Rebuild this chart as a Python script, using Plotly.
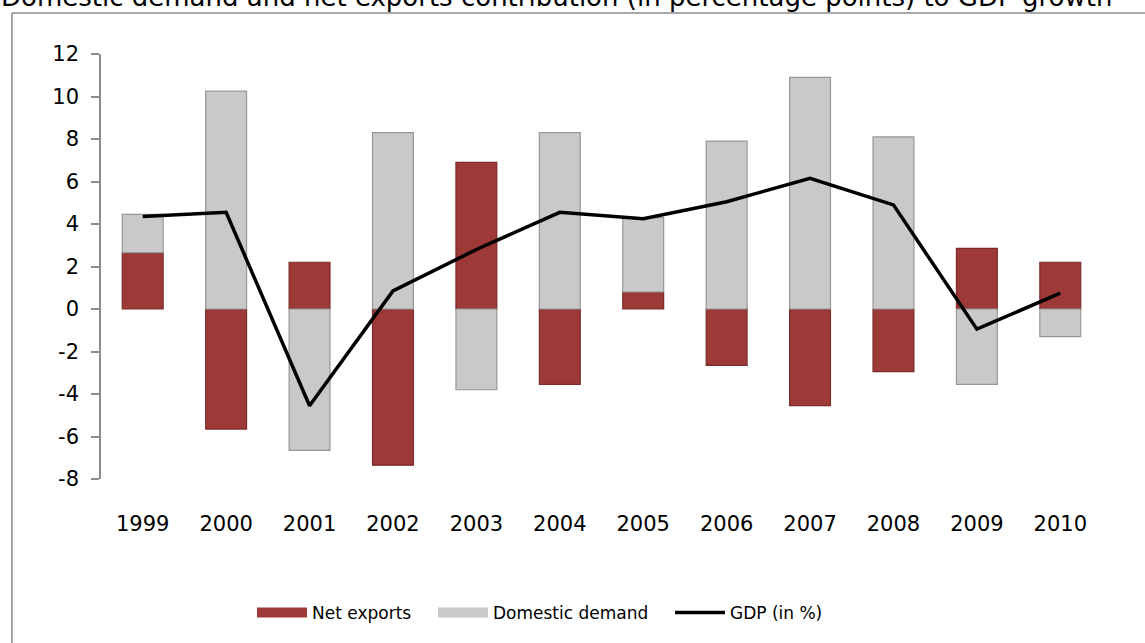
import plotly.graph_objects as go

# Contributions to GDP growth, percentage points
years = ["1999", "2000", "2001", "2002", "2003", "2004",
         "2005", "2006", "2007", "2008", "2009", "2010"]
net_exports = [2.65, -5.65, 2.2, -7.35, 6.9, -3.55, 0.8, -2.65, -4.55, -2.95, 2.85, 2.2]
domestic_demand = [1.8, 10.25, -6.65, 8.3, -3.8, 8.3, 3.5, 7.9, 10.9, 8.1, -3.55, -1.3]
gdp_growth = [4.35, 4.55, -4.55, 0.85, 2.8, 4.55, 4.25, 5.05, 6.15, 4.9, -0.95, 0.75]

y_ticks = list(range(-8, 13, 2))

AXIS_GREY = "#8c8c8c"
RED = "#9d3a38"
GREY = "#c9c9c9"
FONT = "DejaVu Sans"

fig = go.Figure()

fig.add_trace(go.Bar(
    x=years, y=net_exports, name="Net exports", width=0.49, showlegend=False,
    marker=dict(color=RED, line=dict(color="#7a2b2a", width=1.2)),
))
fig.add_trace(go.Bar(
    x=years, y=domestic_demand, name="Domestic demand", width=0.49, showlegend=False,
    marker=dict(color=GREY, line=dict(color="#979797", width=1.2)),
))
fig.add_trace(go.Scatter(
    x=years, y=gdp_growth, name="GDP (in %)", mode="lines",
    line=dict(color="black", width=3.5), legend="legend3",
))

# wide rectangular legend keys for the two bar series
fig.add_trace(go.Scatter(x=[None], y=[None], mode="lines", name="Net exports",
                         line=dict(color=RED, width=11), legend="legend"))
fig.add_trace(go.Scatter(x=[None], y=[None], mode="lines", name="Domestic demand",
                         line=dict(color=GREY, width=11), legend="legend2"))

# zero baseline with category separators
n = len(years)
fig.update_layout(
    xaxis2=dict(
        overlaying="x", anchor="free", position=0.4,
        range=[-0.5, n - 0.5], tickmode="array",
        tickvals=[i - 0.5 for i in range(n + 1)],
        ticks="outside", ticklen=7, tickcolor=AXIS_GREY, tickwidth=1.5,
        showticklabels=False, showline=True, linecolor=AXIS_GREY, linewidth=1.5,
        showgrid=False, zeroline=False,
    ),
)

legend_common = dict(orientation="h", xanchor="left", y=-0.315, yanchor="middle",
                     font=dict(size=17), bgcolor="rgba(0,0,0,0)", itemwidth=50)

fig.update_layout(
    width=1145, height=643,
    margin=dict(l=101, r=43, t=54, b=164),
    paper_bgcolor="white", plot_bgcolor="white",
    barmode="relative", bargap=0.5,
    font=dict(family=FONT, color="black"),
    xaxis=dict(
        type="category", showline=False, ticks="", showgrid=False,
        tickfont=dict(size=21), ticklabelstandoff=30,
    ),
    yaxis=dict(
        range=[-8, 12], tickmode="array", tickvals=y_ticks,
        ticktext=[str(v) for v in y_ticks],
        showgrid=False, zeroline=False,
        showline=True, linecolor=AXIS_GREY, linewidth=1.5,
        ticks="outside", ticklen=8, tickcolor=AXIS_GREY, tickwidth=1.5,
        tickfont=dict(size=21), ticklabelstandoff=8,
    ),
    legend=dict(x=(252 - 101) / 1001, **legend_common),
    legend2=dict(x=(433 - 101) / 1001, **legend_common),
    legend3=dict(x=(670 - 101) / 1001, **legend_common),
    showlegend=True,
)

# outer chart frame
fig.add_shape(type="line", xref="paper", yref="paper",
              x0=-0.089, x1=-0.089, y0=1.0965, y1=-0.45,
              line=dict(color=AXIS_GREY, width=1.5))
fig.add_shape(type="line", xref="paper", yref="paper",
              x0=-0.089, x1=1.1, y0=1.0965, y1=1.0965,
              line=dict(color=AXIS_GREY, width=1.5))

fig.add_annotation(
    text="Domestic demand and net exports contribution (in percentage points) to GDP growth",
    xref="paper", yref="paper", x=-0.102, y=1.094, xanchor="left", yanchor="bottom",
    showarrow=False, font=dict(size=26, family=FONT),
)

fig.write_html("out.html")
